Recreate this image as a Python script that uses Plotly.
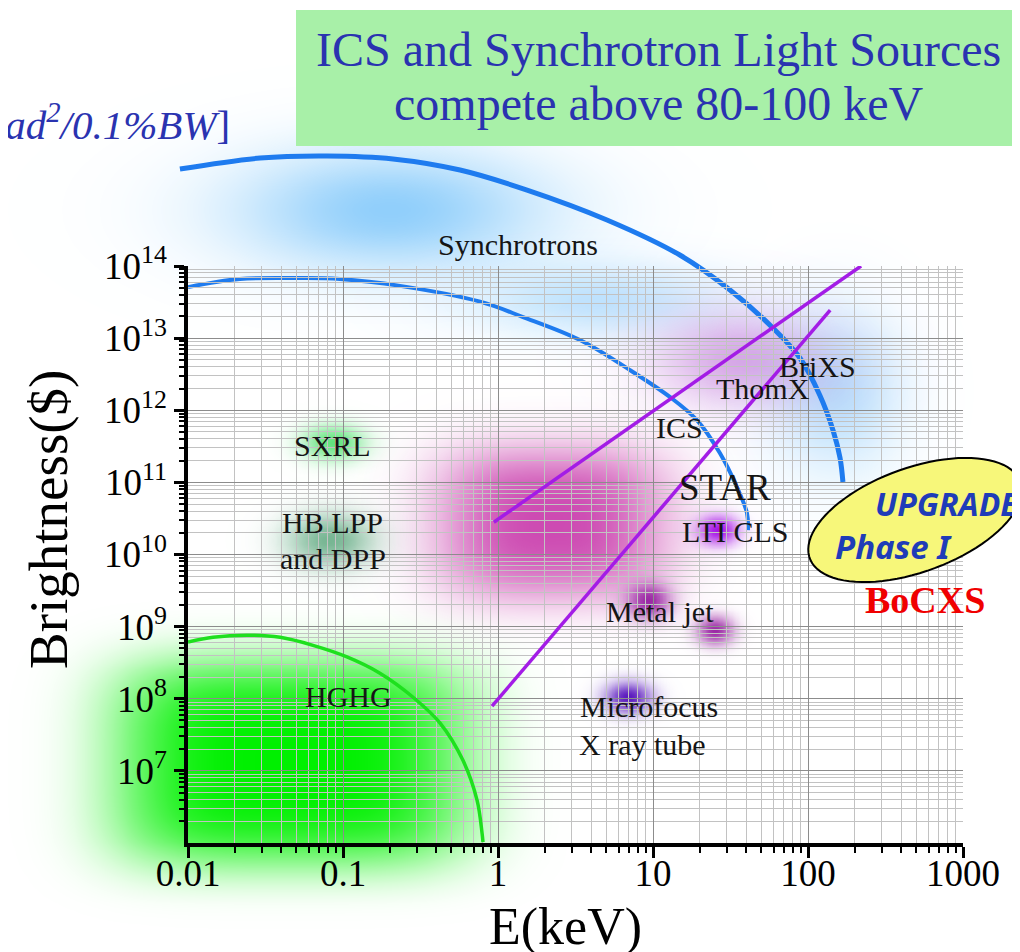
import numpy as np
import plotly.graph_objects as go

# page body adds an 8px offset: work in screen pixels, convert to figure pixels
OFF = 8
W, H = 1020 - OFF, 952 - OFF
# main axes box (screen pixels) and its log ranges
BOX_L, BOX_R, BOX_T, BOX_B = 188 - OFF, 963 - OFF, 266 - OFF, 843 - OFF
X_RANGE = [-2, 3]
Y_RANGE = [6, 14]

# ---------------- data ----------------
x_tick_vals = [0.01, 0.1, 1, 10, 100, 1000]
x_tick_text = ["0.01", "0.1", "1", "10", "100", "1000"]
y_tick_vals = [1e7, 1e8, 1e9, 1e10, 1e11, 1e12, 1e13, 1e14]
y_tick_text = ["10<sup>7</sup>", "10<sup>8</sup>", "10<sup>9</sup>", "10<sup>10</sup>",
               "10<sup>11</sup>", "10<sup>12</sup>", "10<sup>13</sup>", "10<sup>14</sup>"]

sync_outer_E = [0.00887, 0.0292, 0.0789, 0.210, 0.569, 1.54, 5.05, 14.9, 31.4, 59.4, 88.7, 119, 145, 161, 168]
sync_outer_B = [2.21e15, 3.14e15, 3.35e15, 3.05e15, 2.14e15, 1.13e15, 4.35e14, 1.42e14, 4.65e13,
                1.38e13, 5.3e12, 1.63e12, 5.3e11, 2.18e11, 1.01e11]

sync_inner_E = [0.01, 0.0216, 0.0528, 0.0957, 0.233, 0.766, 1.45, 3.38, 7.11, 12.9, 19.2, 27.0, 34.8, 40.4, 41.0]
sync_inner_B = [5.1e13, 6.6e13, 6.8e13, 6.6e13, 5.3e13, 3.2e13, 1.96e13, 9.4e12, 3.6e12, 1.52e12,
                7.3e11, 2.55e11, 8.6e10, 3.75e10, 2.18e10]

hghg_E = [0.01, 0.0145, 0.0240, 0.0393, 0.0640, 0.106, 0.173, 0.283, 0.423, 0.594, 0.733, 0.789, 0.80]
hghg_B = [6.1e8, 7.1e8, 7.6e8, 7.1e8, 5.5e8, 3.8e8, 2.26e8, 1.05e8, 4.6e7, 1.4e7, 3.9e6, 1.37e6, 1.03e6]

ics_upper_E = [0.94, 220]
ics_upper_B = [2.8e10, 1.0e14]
ics_lower_E = [0.915, 139]
ics_lower_B = [7.9e7, 2.45e13]

# source regions (glows): centre E, centre B, half-widths in decades
glow_names = ["sync_top", "sync_mid", "sync_right", "ics", "thomx", "lti", "metal1", "metal2",
              "microfocus", "sxrl", "hblpp", "hghg"]
glow_E = [0.2, 4.5, 150, 2.2, 36, 26.2, 9.3, 25, 6.9, 0.086, 0.082, 0.046]
glow_B = [6.0e14, 3.4e13, 1.9e12, 2.8e10, 5.0e12, 2.2e10, 2.3e9, 8.9e8, 1.05e8, 3.6e11, 1.6e10, 1.3e7]
glow_wE = [1.0, 0.8, 0.42, 0.74, 0.55, 0.13, 0.14, 0.12, 0.15, 0.2, 0.28, 1.15]
glow_wB = [0.85, 0.5, 1.1, 1.05, 0.65, 0.2, 0.25, 0.2, 0.22, 0.25, 0.38, 1.45]

label_text = ["Synchrotrons", "SXRL", "HB LPP", "and DPP", "HGHG", "ICS", "ThomX", "BriXS",
              "STAR", "LTI CLS", "Metal jet", "Microfocus", "X ray tube"]
label_E = [1.35, 0.086, 0.086, 0.086, 0.108, 14.9, 51.3, 116, 29.2, 33.8, 11.1, 9.42, 8.6]
label_B = [2.0e14, 3.2e11, 2.8e10, 8.9e9, 1.06e8, 5.7e11, 2.0e12, 4.1e12, 8.4e10, 2.1e10, 1.6e9, 7.9e7, 2.3e7]

# ---------------- styles ----------------
glow_style = {
    "sync_top": ((125, 198, 250), 0.85, 2),
    "sync_mid": ((130, 200, 250), 0.5, 2),
    "sync_right": ((130, 200, 250), 0.55, 2),
    "ics": ((205, 75, 178), 1.0, 3),
    "thomx": ((190, 110, 215), 0.6, 2),
    "lti": ((165, 20, 230), 1.0, 2),
    "metal1": ((150, 30, 160), 0.95, 2),
    "metal2": ((150, 30, 160), 0.95, 2),
    "microfocus": ((90, 25, 190), 1.0, 2),
    "sxrl": ((80, 225, 110), 0.9, 2),
    "hblpp": ((60, 150, 100), 0.7, 2),
    "hghg": ((0, 240, 0), 1.0, 4),
}
SERIF = "Liberation Serif, Times New Roman, serif"
BLUE_ARC = "#1E7BEF"
PURPLE = "#A31CE6"
GREEN = "#1EE01E"

# full-figure overlay axes with same scale as main axes
px_per_dec_x = (BOX_R - BOX_L) / (X_RANGE[1] - X_RANGE[0])
px_per_dec_y = (BOX_B - BOX_T) / (Y_RANGE[1] - Y_RANGE[0])
FULL_X = [X_RANGE[0] - BOX_L / px_per_dec_x, X_RANGE[1] + (W - BOX_R) / px_per_dec_x]
FULL_Y = [Y_RANGE[0] - (H - BOX_B) / px_per_dec_y, Y_RANGE[1] + BOX_T / px_per_dec_y]

fig = go.Figure()

# glows on the full-figure axes (drawn under the main grid)
for name, e0, b0, we, wb in zip(glow_names, glow_E, glow_B, glow_wE, glow_wB):
    (r, g, b), amax, p = glow_style[name]
    lx0, ly0 = np.log10(e0), np.log10(b0)
    lx = np.linspace(lx0 - 2.6 * we, lx0 + 2.6 * we, 80)
    ly = np.linspace(ly0 - 2.6 * wb, ly0 + 2.6 * wb, 80)
    LX, LY = np.meshgrid(lx, ly)
    z = np.exp(-(np.abs((LX - lx0) / we) ** p + np.abs((LY - ly0) / wb) ** p))
    fig.add_trace(go.Heatmap(
        x=10 ** lx, y=10 ** ly, z=z, zmin=0, zmax=1, zsmooth="best",
        colorscale=[[0, f"rgba({r},{g},{b},0)"], [1, f"rgba({r},{g},{b},{amax})"]],
        showscale=False, hoverinfo="skip", xaxis="x", yaxis="y"))

fig.add_trace(go.Scatter(x=sync_outer_E, y=sync_outer_B, mode="lines", line=dict(color=BLUE_ARC, width=5, shape="spline"),
                         hoverinfo="skip", xaxis="x", yaxis="y"))
fig.add_trace(go.Scatter(x=sync_inner_E, y=sync_inner_B, mode="lines", line=dict(color=BLUE_ARC, width=4, shape="spline"),
                         hoverinfo="skip", xaxis="x", yaxis="y"))

# main axes traces
fig.add_trace(go.Scatter(x=ics_upper_E, y=ics_upper_B, mode="lines", line=dict(color=PURPLE, width=3.5),
                         hoverinfo="skip", xaxis="x2", yaxis="y2"))
fig.add_trace(go.Scatter(x=ics_lower_E, y=ics_lower_B, mode="lines", line=dict(color=PURPLE, width=3.5),
                         hoverinfo="skip", xaxis="x2", yaxis="y2"))
fig.add_trace(go.Scatter(x=hghg_E, y=hghg_B, mode="lines", line=dict(color=GREEN, width=3.5, shape="spline"),
                         hoverinfo="skip", xaxis="x2", yaxis="y2", cliponaxis=False))

def minor_vals(lo, hi):
    return [m * 10 ** d for d in range(lo, hi) for m in range(2, 10)]

axis_font = dict(family=SERIF, size=37, color="black")
fig.update_layout(
    width=W, height=H, autosize=False,
    margin=dict(l=0, r=0, t=0, b=0, pad=0, autoexpand=False),
    paper_bgcolor="white", plot_bgcolor="rgba(0,0,0,0)",
    showlegend=False,
    xaxis=dict(type="log", range=FULL_X, domain=[0, 1], visible=False, fixedrange=True, anchor="y"),
    yaxis=dict(type="log", range=FULL_Y, domain=[0, 1], visible=False, fixedrange=True, anchor="x"),
    xaxis2=dict(type="log", range=X_RANGE, domain=[BOX_L / W, BOX_R / W], anchor="y2",
                tickmode="array", tickvals=x_tick_vals, ticktext=x_tick_text, tickfont=axis_font,
                ticks="outside", ticklen=11, tickwidth=2.5, tickcolor="black", ticklabelstandoff=-16,
                showline=True, linewidth=3.5, linecolor="black", zeroline=False,
                showgrid=True, gridcolor="#8c8c8c", gridwidth=1,
                minor=dict(tickvals=minor_vals(-2, 3), ticks="outside", ticklen=6, tickwidth=2,
                           tickcolor="black", showgrid=True, gridcolor="#c2c2c2", gridwidth=1),
                fixedrange=True, automargin=False),
    yaxis2=dict(type="log", range=Y_RANGE, domain=[(H - BOX_B) / H, (H - BOX_T) / H], anchor="x2",
                tickmode="array", tickvals=y_tick_vals, ticktext=y_tick_text, tickfont=axis_font,
                ticks="outside", ticklen=10, tickwidth=2.5, tickcolor="black",
                showline=True, linewidth=3.5, linecolor="black", zeroline=False,
                showgrid=True, gridcolor="#8c8c8c", gridwidth=1,
                minor=dict(tickvals=minor_vals(6, 14), ticks="outside", ticklen=5, tickwidth=2,
                           tickcolor="black", showgrid=True, gridcolor="#c2c2c2", gridwidth=1),
                fixedrange=True, automargin=False),
)

def P(px, py):
    """screen pixel -> paper fraction"""
    return (px - OFF) / W, 1 - (py - OFF) / H

shapes = []
# title box
x0, y1 = P(296, 10)
x1, y0 = P(1012, 146)
shapes.append(dict(type="rect", xref="paper", yref="paper", x0=x0, x1=x1, y0=y0, y1=y1,
                   fillcolor="#A8F0A8", line=dict(width=0), layer="above"))
# tilted ellipse
cx, cy, a, b, th = 915, 520, 112, 52, np.deg2rad(20)
t = np.linspace(0, 2 * np.pi, 90)
ex = cx + a * np.cos(t) * np.cos(th) - b * np.sin(t) * np.sin(th)
ey = cy - (a * np.cos(t) * np.sin(th) + b * np.sin(t) * np.cos(th))
pts = [P(x, y) for x, y in zip(ex, ey)]
path = "M " + " L ".join(f"{x:.5f},{y:.5f}" for x, y in pts) + " Z"
shapes.append(dict(type="path", xref="paper", yref="paper", path=path,
                   fillcolor="#F7F77A", line=dict(color="black", width=2), layer="above"))
fig.update_layout(shapes=shapes)

ann = []
label_size = {"STAR": 37}
for txt, e, bb in zip(label_text, label_E, label_B):
    ann.append(dict(x=np.log10(e), y=np.log10(bb), xref="x", yref="y", text=txt, showarrow=False,
                    font=dict(family=SERIF, size=label_size.get(txt, 30), color="#151515"),
                    xanchor="center", yanchor="middle"))

def pa(text, px, py, size, color, xanchor="center", family=SERIF, angle=0):
    x, y = P(px, py)
    ann.append(dict(x=x, y=y, xref="paper", yref="paper", text=text, showarrow=False,
                    font=dict(family=family, size=size, color=color), xanchor=xanchor,
                    yanchor="middle", textangle=angle))

pa("ICS and Synchrotron Light Sources", 658, 50, 48, "#2A33B0")
pa("compete above 80-100 keV", 658, 104, 48, "#2A33B0")
pa("<i>[ph/s/mm<sup>2</sup>/mrad<sup>2</sup>/0.1%BW</i>]", 232, 122, 41, "#2A33B0", xanchor="right")
pa("Brightness($)", 48, 520, 55, "black", angle=-90)
pa("E(keV)", 565, 927, 52, "black")
pa("<b>BoCXS</b>", 925, 600, 38, "#F00000")
pa("<b><i>UPGRADE</i></b>", 873, 503, 32, "#1F3CB8", xanchor="left", family="Noto Sans, sans-serif")
pa("<b><i>Phase I</i></b>", 833, 546, 33, "#1F3CB8", xanchor="left", family="Noto Sans, sans-serif")
fig.update_layout(annotations=ann)

fig.write_html("out.html")
